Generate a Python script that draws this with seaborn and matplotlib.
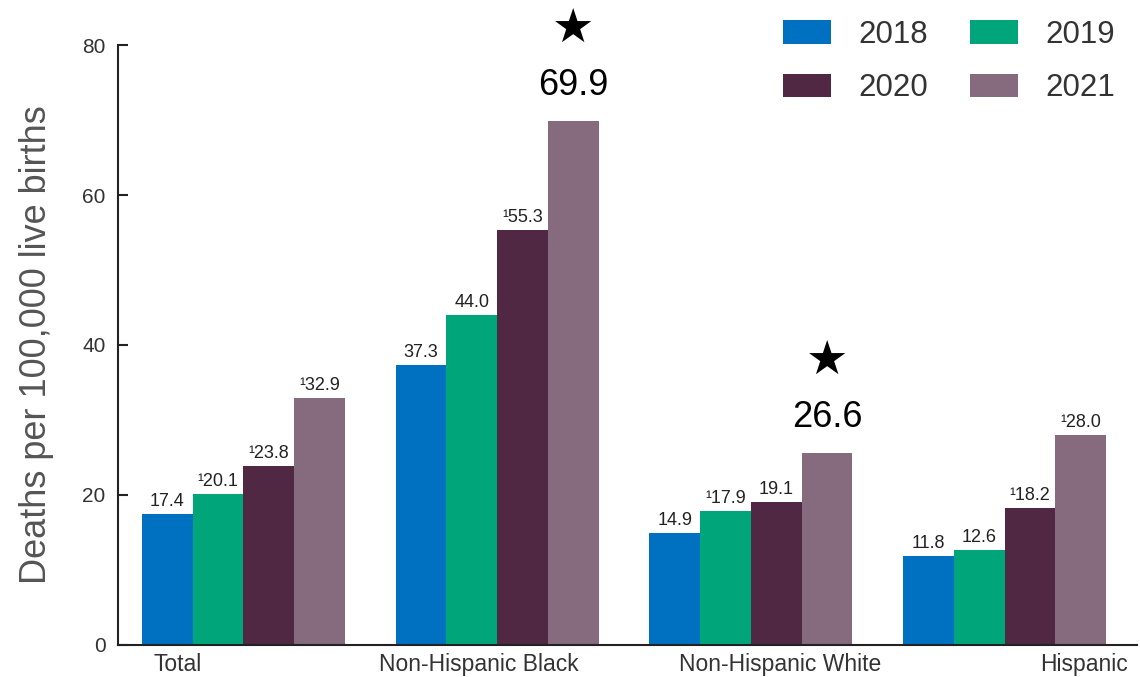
import pandas as pd
import matplotlib.pyplot as plt
import matplotlib.transforms as mtransforms
import seaborn as sns

# data
groups = ['Total', 'Non-Hispanic Black', 'Non-Hispanic White', 'Hispanic']
years = ['2018', '2019', '2020', '2021']
rate_2018 = [17.4, 37.3, 14.9, 11.8]
rate_2019 = [20.1, 44.0, 17.9, 12.6]
rate_2020 = [23.8, 55.3, 19.1, 18.2]
rate_2021 = [32.9, 69.9, 25.6, 28.0]
labels_2018 = ['17.4', '37.3', '14.9', '11.8']
labels_2019 = ['¹20.1', '44.0', '¹17.9', '12.6']
labels_2020 = ['¹23.8', '¹55.3', '19.1', '¹18.2']
labels_2021 = ['¹32.9', '69.9', '26.6', '¹28.0']
starred_2021 = [False, True, True, False]
colors = ['#0070C0', '#00A67A', '#512843', '#866A7D']

rows = []
for yr, vals in zip(years, [rate_2018, rate_2019, rate_2020, rate_2021]):
    for g, v in zip(groups, vals):
        rows.append({'group': g, 'year': yr, 'rate': v})
df = pd.DataFrame(rows)

sns.set_style('white')
plt.rcParams['font.family'] = ['Liberation Sans', 'DejaVu Sans']

fig = plt.figure(figsize=(11.4, 6.77), dpi=100)
ax = fig.add_axes([0.1035, 0.0473, 0.8935, 0.8862])

sns.barplot(data=df, x='group', y='rate', hue='year', palette=colors,
            saturation=1, width=0.8, gap=0, linewidth=0, ax=ax, legend=True)

ax.set_ylim(0, 80)
ax.set_xlim(-0.494, 3.52)
ax.set_yticks([0, 20, 40, 60, 80])
ax.tick_params(axis='y', direction='in', length=7, width=1.5, labelsize=15,
               labelcolor='#333333', color='#222222', pad=9, left=True)
ax.tick_params(axis='x', length=0, labelsize=16.5, labelcolor='#333333', pad=6)
for side in ['top', 'right']:
    ax.spines[side].set_visible(False)
for side in ['left', 'bottom']:
    ax.spines[side].set_linewidth(1.5)
    ax.spines[side].set_color('#222222')

ax.set_xlabel('')
ax.set_ylabel('Deaths per 100,000 live births', fontsize=26, color='#555555', labelpad=20)

# shift category labels like the original
shifts = [-66, -18, 29, 79]
for lab, dx in zip(ax.get_xticklabels(), shifts):
    lab.set_transform(lab.get_transform() + mtransforms.ScaledTranslation(dx / 100, 0, fig.dpi_scale_trans))

# value labels
all_labels = [labels_2018, labels_2019, labels_2020, labels_2021]
for i, cont in enumerate(ax.containers):
    for j, bar in enumerate(cont):
        x = bar.get_x() + bar.get_width() / 2
        h = bar.get_height()
        if i == 3 and starred_2021[j]:
            ax.annotate(all_labels[i][j], (x, h), xytext=(0, 13), textcoords='offset points',
                        ha='center', va='bottom', fontsize=26, color='black')
            ax.annotate('★', (x, h), xytext=(0, 65), textcoords='offset points',
                        ha='center', va='center', fontsize=34, color='black',
                        family=['DejaVu Sans'])
        else:
            ax.annotate(all_labels[i][j], (x, h), xytext=(0, 3), textcoords='offset points',
                        ha='center', va='bottom', fontsize=13, color='#222222')

# legend filled row by row
handles, lbls = ax.get_legend_handles_labels()
order = [0, 2, 1, 3]
ax.legend([handles[k] for k in order], [lbls[k] for k in order], ncol=2, frameon=False,
          loc='upper left', bbox_to_anchor=(783 / 1140, 1 - 20 / 677),
          bbox_transform=fig.transFigure, fontsize=22.5, labelcolor='#333333',
          handlelength=1.55, handleheight=0.78, handletextpad=0.85,
          columnspacing=1.35, labelspacing=0.75, borderpad=0, borderaxespad=0)

plt.savefig('out.png', dpi=100)
